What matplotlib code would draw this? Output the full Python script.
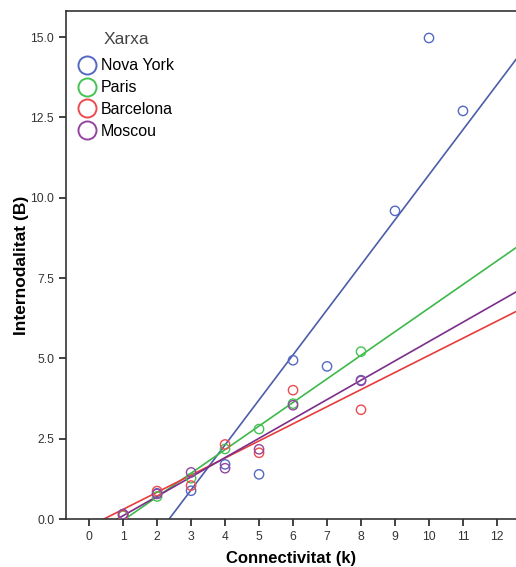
import matplotlib
matplotlib.use("Agg")
import matplotlib.pyplot as plt
from matplotlib.lines import Line2D
import numpy as np

plt.rcParams['font.family'] = ['Liberation Sans', 'DejaVu Sans']

# dades llegides del gràfic
ny_x = [1, 2, 3, 4, 5, 6, 7, 8, 9, 10, 11]
ny_y = [0.15, 0.80, 0.88, 1.70, 1.39, 4.94, 4.75, 4.32, 9.59, 14.97, 12.70]
par_x = [1, 2, 3, 4, 5, 6, 8]
par_y = [0.10, 0.70, 1.27, 2.18, 2.80, 3.59, 5.21]
bcn_x = [1, 2, 3, 4, 5, 6, 8]
bcn_y = [0.12, 0.87, 1.04, 2.32, 2.06, 4.01, 3.40]
mos_x = [1, 2, 3, 4, 5, 6, 8]
mos_y = [0.15, 0.78, 1.45, 1.58, 2.17, 3.54, 4.30]

noms = ["Nova York", "Paris", "Barcelona", "Moscou"]
colors_pt = ["#5468c4", "#45c252", "#ec4b50", "#93459f"]
colors_ln = ["#4c5daa", "#3db94a", "#e83c3c", "#7b2e8a"]

xticks = list(range(0, 13))
yticks = [0.0, 2.5, 5.0, 7.5, 10.0, 12.5, 15.0]

fig = plt.figure(figsize=(5.16, 5.67), dpi=100)
ax = fig.add_axes([66/516, 48/567, 450/516, 508/567])
xmin, xmax = -0.68, 12.56

series = [(ny_x, ny_y), (par_x, par_y), (bcn_x, bcn_y), (mos_x, mos_y)]
for (xs, ys), cp, cl in zip(series, colors_pt, colors_ln):
    ax.scatter(xs, ys, s=45, facecolors='none', edgecolors=cp, linewidths=1.0, zorder=3)
    # recta d'ajust lineal per a cada xarxa
    b, a = np.polyfit(xs, ys, 1)
    xx = np.array([xmin, xmax])
    ax.plot(xx, a + b * xx, color=cl, lw=1.2, zorder=2)

ax.set_xlim(xmin, xmax)
ax.set_ylim(0, 15.81)
ax.set_xticks(xticks)
ax.set_yticks(yticks)
ax.set_yticklabels([f"{v:.1f}" for v in yticks])
ax.tick_params(direction='out', length=5, width=1.2, labelsize=8.7, colors='#222222', labelcolor='#333333')
for s in ['left', 'bottom', 'top']:
    ax.spines[s].set_linewidth(1.2)
    ax.spines[s].set_color('#333333')
ax.spines['right'].set_visible(False)

ax.set_xlabel("Connectivitat (k)", fontsize=12, fontweight='bold', labelpad=6)
ax.set_ylabel("Internodalitat (B)", fontsize=12.5, fontweight='bold', labelpad=1)

handles = [Line2D([], [], ls='none', marker='o', markersize=13, mfc='none', mec=c, mew=1.4)
           for c in colors_pt]
leg = ax.legend(handles, noms, title="Xarxa", loc='upper left', bbox_to_anchor=(0.003, 0.98),
                frameon=False, fontsize=11.5, title_fontsize=12.5, handletextpad=0.32,
                labelspacing=0.42, handlelength=1.1, borderaxespad=0.3)
leg.get_title().set_color('#444444')
leg._legend_box.sep = 8

fig.savefig("out.png", dpi=100)
